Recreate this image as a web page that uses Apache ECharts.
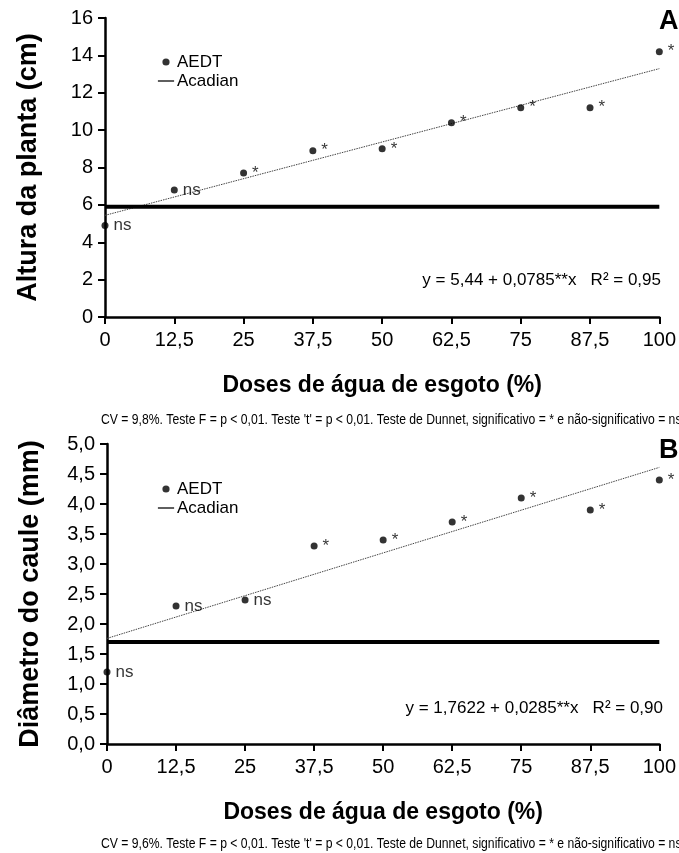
<!DOCTYPE html>
<html>
<head>
<meta charset="utf-8">
<script src="https://cdn.jsdelivr.net/npm/echarts@6/dist/echarts.min.js"></script>
<style>
  html, body { margin: 0; padding: 0; background: #fff; }
  #chart { width: 679px; height: 853px; }
</style>
</head>
<body>
<div id="chart"></div>
<script>
// doses de água de esgoto (%)
const doses = [0, 12.5, 25, 37.5, 50, 62.5, 75, 87.5, 100]
const xTicks = ['0', '12,5', '25', '37,5', '50', '62,5', '75', '87,5', '100']

// A - altura da planta (cm)
const alturaAEDT = [4.9, 6.8, 7.7, 8.9, 9.0, 10.4, 11.2, 11.2, 14.2]
const alturaSig = ['ns', 'ns', '*', '*', '*', '*', '*', '*', '*']
const alturaAcadian = [5.9, 5.9]
const alturaTrend = [5.44, 13.29]

// B - diâmetro do caule (mm)
const diametroAEDT = [1.2, 2.3, 2.4, 3.3, 3.4, 3.7, 4.1, 3.9, 4.4]
const diametroSig = ['ns', 'ns', 'ns', '*', '*', '*', '*', '*', '*']
const diametroAcadian = [1.7, 1.7]
const diametroTrend = [1.76, 4.61]

const ends = [0, 100]
const FONT = 'Liberation Sans, Arial, sans-serif'

const dotIcon = 'path://M0,0M20,20M14,10A4,4,0,1,1,6,10A4,4,0,1,1,14,10Z'
const lineIcon = 'path://M0,0M20,20M1,9.3L19,9.3L19,10.7L1,10.7Z'

function pts(xs, ys) {
  return xs.map((x, i) => [x, ys[i]])
}

function xAxisCfg(gridIndex) {
  return {
    type: 'value',
    gridIndex: gridIndex,
    min: 0,
    max: 100,
    interval: 12.5,
    name: 'Doses de água de esgoto (%)',
    nameLocation: 'middle',
    nameGap: 57,
    nameTextStyle: { fontFamily: FONT, fontSize: 23, fontWeight: 'bold', color: '#000' },
    axisLine: { lineStyle: { color: '#000', width: 2.5 } },
    axisTick: { inside: false, length: 7, lineStyle: { color: '#000', width: 2 } },
    axisLabel: {
      margin: 13,
      fontFamily: FONT,
      fontSize: 20,
      color: '#000',
      formatter: v => xTicks[doses.indexOf(v)]
    },
    splitLine: { show: false }
  }
}

function yAxisCfg(gridIndex, max, interval, name, fmt) {
  return {
    type: 'value',
    gridIndex: gridIndex,
    min: 0,
    max: max,
    interval: interval,
    name: name,
    nameLocation: 'middle',
    nameGap: 63,
    nameTextStyle: { fontFamily: FONT, fontSize: 27, fontWeight: 'bold', color: '#000' },
    axisLine: { show: true, lineStyle: { color: '#000', width: 2.5 } },
    axisTick: { show: true, inside: false, length: 7, lineStyle: { color: '#000', width: 2 } },
    axisLabel: { margin: 12, fontFamily: FONT, fontSize: 20, color: '#000', formatter: fmt },
    splitLine: { show: false }
  }
}

function seriesFor(idx, aedt, sig, acadian, trend) {
  return [
    {
      name: 'Acadian',
      type: 'line',
      xAxisIndex: idx,
      yAxisIndex: idx,
      data: pts(ends, acadian),
      showSymbol: false,
      symbol: 'none',
      lineStyle: { color: '#000', width: 4 },
      itemStyle: { color: '#000' },
      z: 3
    },
    {
      name: 'tendencia',
      type: 'line',
      xAxisIndex: idx,
      yAxisIndex: idx,
      data: pts(ends, trend),
      symbol: 'none',
      lineStyle: { color: '#444', width: 1, type: [1.5, 1] },
      z: 2
    },
    {
      name: 'AEDT',
      type: 'scatter',
      xAxisIndex: idx,
      yAxisIndex: idx,
      data: pts(doses, aedt),
      symbol: 'circle',
      symbolSize: 7,
      itemStyle: { color: '#000' },
      label: {
        show: true,
        position: 'right',
        distance: 5,
        fontFamily: FONT,
        fontSize: 17,
        color: '#000',
        formatter: p => sig[p.dataIndex]
      },
      z: 4
    }
  ]
}

const chart = echarts.init(document.getElementById('chart'), null, { renderer: 'canvas' })

// legenda de cada painel
function legendCfg(top) {
  return {
    orient: 'vertical',
    left: 152,
    top: top,
    itemWidth: 20,
    itemHeight: 18,
    itemGap: 1,
    textStyle: { fontFamily: FONT, fontSize: 17, color: '#000', padding: [0, 0, 0, -4] },
    data: [{ name: 'AEDT', icon: dotIcon }, { name: 'Acadian', icon: lineIcon }]
  }
}

const cvA = "CV = 9,8%. Teste F = p < 0,01. Teste 't' = p < 0,01. Teste de Dunnet, significativo = * e não-significativo = ns"
const cvB = "CV = 9,6%. Teste F = p < 0,01. Teste 't' = p < 0,01. Teste de Dunnet, significativo = * e não-significativo = ns"

chart.setOption({
  backgroundColor: '#fff',
  animation: false,
  grid: [
    { left: 105, right: 18, top: 18, height: 299 },
    { left: 107, right: 16, top: 444, height: 300 }
  ],
  legend: [legendCfg(48), legendCfg(475)],
  xAxis: [xAxisCfg(0), xAxisCfg(1)],
  yAxis: [
    yAxisCfg(0, 16, 2, 'Altura da planta (cm)', v => String(v)),
    yAxisCfg(1, 5, 0.5, 'Diâmetro do caule (mm)', v => v.toFixed(1).replace('.', ','))
  ],
  series: [].concat(
    seriesFor(0, alturaAEDT, alturaSig, alturaAcadian, alturaTrend),
    seriesFor(1, diametroAEDT, diametroSig, diametroAcadian, diametroTrend)
  ),
  graphic: [
    { type: 'text', x: 659, y: 8, style: { text: 'A', font: 'bold 27px ' + FONT, fill: '#000' } },
    { type: 'text', x: 659, y: 437, style: { text: 'B', font: 'bold 27px ' + FONT, fill: '#000' } },
    {
      type: 'text', right: 18, top: 272,
      style: { text: 'y = 5,44 + 0,0785**x   R² = 0,95', font: '17px ' + FONT, fill: '#000' }
    },
    {
      type: 'text', right: 16, top: 700,
      style: { text: 'y = 1,7622 + 0,0285**x   R² = 0,90', font: '17px ' + FONT, fill: '#000' }
    },
    { type: 'text', x: 101, y: 413, scaleX: 0.87, style: { text: cvA, font: '14px ' + FONT, fill: '#000' } },
    { type: 'text', x: 101, y: 837, scaleX: 0.87, style: { text: cvB, font: '14px ' + FONT, fill: '#000' } }
  ]
})
</script>
</body>
</html>
